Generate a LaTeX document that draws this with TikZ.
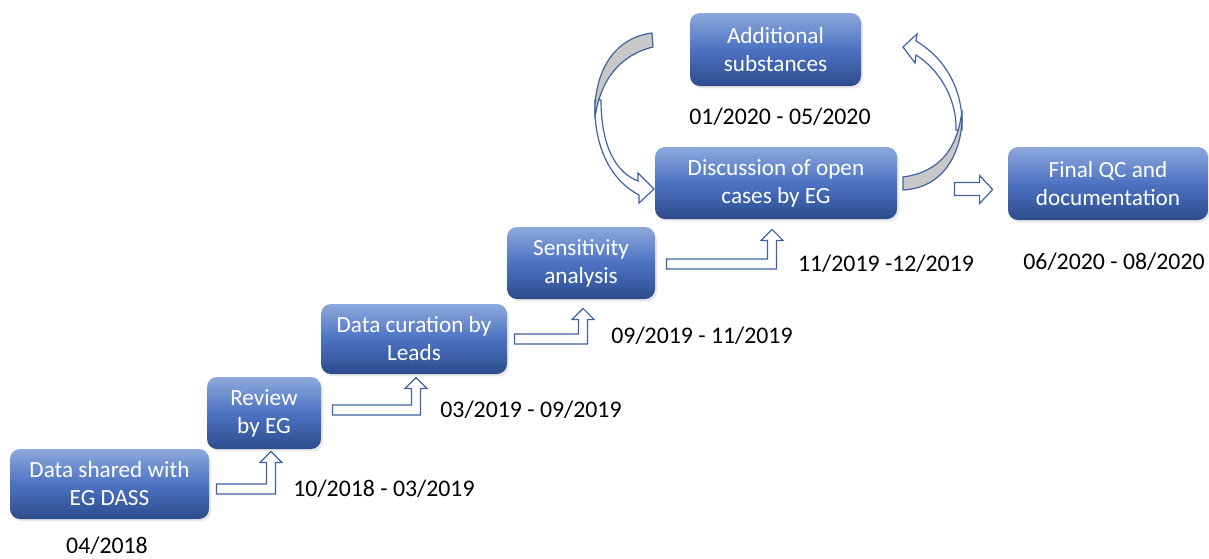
\documentclass[tikz,border=0pt]{standalone}
\usepackage{fontspec}
\setmainfont{Carlito}
\usetikzlibrary{calc,shadows}
\definecolor{btop}{RGB}{141,169,219}
\definecolor{bmid}{RGB}{76,114,194}
\definecolor{bbot}{RGB}{44,76,140}
\definecolor{aline}{RGB}{63,98,166}
\definecolor{agray}{RGB}{200,200,200}
\tikzset{
  stepbox/.style={rounded corners=5pt, top color=btop, bottom color=bbot, middle color=bmid,
    text=white, align=center, font=\fontsize{11.6}{14}\selectfont, inner sep=0pt,
    drop shadow={opacity=0.18, shadow xshift=1pt, shadow yshift=-1.2pt}},
  datelbl/.style={font=\fontsize{11.9}{14}\selectfont, text=black, inner sep=0pt},
  barrow/.style={draw=aline, fill=white, line width=0.6pt, line join=miter},
  cgray/.style={draw=aline, fill=agray, line width=0.6pt, line join=miter},
}
% bent-up block arrow: #1 start of shaft (centre line), #2 tip
\newcommand\bentup[2]{%
  \path[barrow] let \p1=#1, \p2=#2 in
    (\x1,\y1+2.5pt) -- (\x2-2.25pt,\y1+2.5pt) -- (\x2-2.25pt,\y2-5.5pt) -- (\x2-5.5pt,\y2-5.5pt)
    -- (\x2,\y2) -- (\x2+5.5pt,\y2-5.5pt) -- (\x2+2.25pt,\y2-5.5pt) -- (\x2+2.25pt,\y1-2.5pt)
    -- (\x1,\y1-2.5pt) -- cycle;}
% straight right block arrow: #1 start, #2 tip
\newcommand\rightblock[2]{%
  \path[barrow] let \p1=#1, \p2=#2 in
    (\x1,\y1+3.25pt) -- (\x2-6.5pt,\y1+3.25pt) -- (\x2-6.5pt,\y2+7pt) -- (\x2,\y2)
    -- (\x2-6.5pt,\y2-7pt) -- (\x2-6.5pt,\y1-3.25pt) -- (\x1,\y1-3.25pt) -- cycle;}
\begin{document}
\begin{tikzpicture}[x=0.5pt,y=-0.5pt]
\useasboundingbox (0,0) rectangle (1209,558);

% boxes
\node[stepbox, minimum width=99.5pt, minimum height=35pt] (d1) at (109.5,484) {Data shared with\\EG DASS};
\node[stepbox, minimum width=57pt, minimum height=36pt] (d2) at (264,413) {Review\\by EG};
\node[stepbox, minimum width=93pt, minimum height=35pt] (d3) at (414,339) {Data curation by\\Leads};
\node[stepbox, minimum width=74pt, minimum height=36pt] (d4) at (581,263) {Sensitivity\\analysis};
\node[stepbox, minimum width=121pt, minimum height=36pt] (d5) at (776,183) {Discussion of open\\cases by EG};
\node[stepbox, minimum width=85.5pt, minimum height=36.5pt] (d6) at (775.5,49.5) {Additional\\substances};
\node[stepbox, minimum width=100pt, minimum height=36.5pt] (d7) at (1108,183.5) {Final QC and\\documentation};

% dates
\node[datelbl] (t1) at (107,546) {04/2018};
\node[datelbl] (t2) at (384,489) {10/2018 - 03/2019};
\node[datelbl] (t3) at (531,410) {03/2019 - 09/2019};
\node[datelbl] (t4) at (702,336) {09/2019 - 11/2019};
\node[datelbl] (t5) at (886,264) {11/2019 -12/2019};
\node[datelbl] (t6) at (780,117) {01/2020 - 05/2020};
\node[datelbl] (t7) at (1114,262) {06/2020 - 08/2020};

% bent-up arrows
\bentup{($(d1.east)+(7,5)$)}{($(d2.south)+(7,2)$)}
\bentup{($(d2.east)+(11,-3)$)}{($(d3.south)+(2,3)$)}
\bentup{($(d3.east)+(7,0)$)}{($(d4.south)+(2,9)$)}
\bentup{($(d4.east)+(11,1)$)}{($(d5.south)+(-4,10)$)}
\rightblock{($(d5.east)+(57,6)$)}{($(d7.west)+(-15,6)$)}

% left curved arrow (d6 side -> d5)
\path[barrow] (595,100) .. controls (593,145) and (610,180) .. (639,195) -- (639,203) -- (654,189)
  -- (638,173) -- (638,181) .. controls (615,172) and (601,145) .. (601,100) -- cycle;
\path[cgray] (652,33) .. controls (612,38) and (593,75) .. (595,118)
  .. controls (600,80) and (620,55) .. (653,47) -- cycle;

% right curved arrow (d5 -> d6 side)
\path[barrow] (962,130) .. controls (964,90) and (945,58) .. (916,41) -- (917,34) -- (903,47)
  -- (915,63) -- (916,55) .. controls (940,70) and (957,100) .. (956,130) -- cycle;
\path[cgray] (903,190) .. controls (945,188) and (964,150) .. (962,110)
  .. controls (958,148) and (940,172) .. (903,177) -- cycle;
\end{tikzpicture}
\end{document}
